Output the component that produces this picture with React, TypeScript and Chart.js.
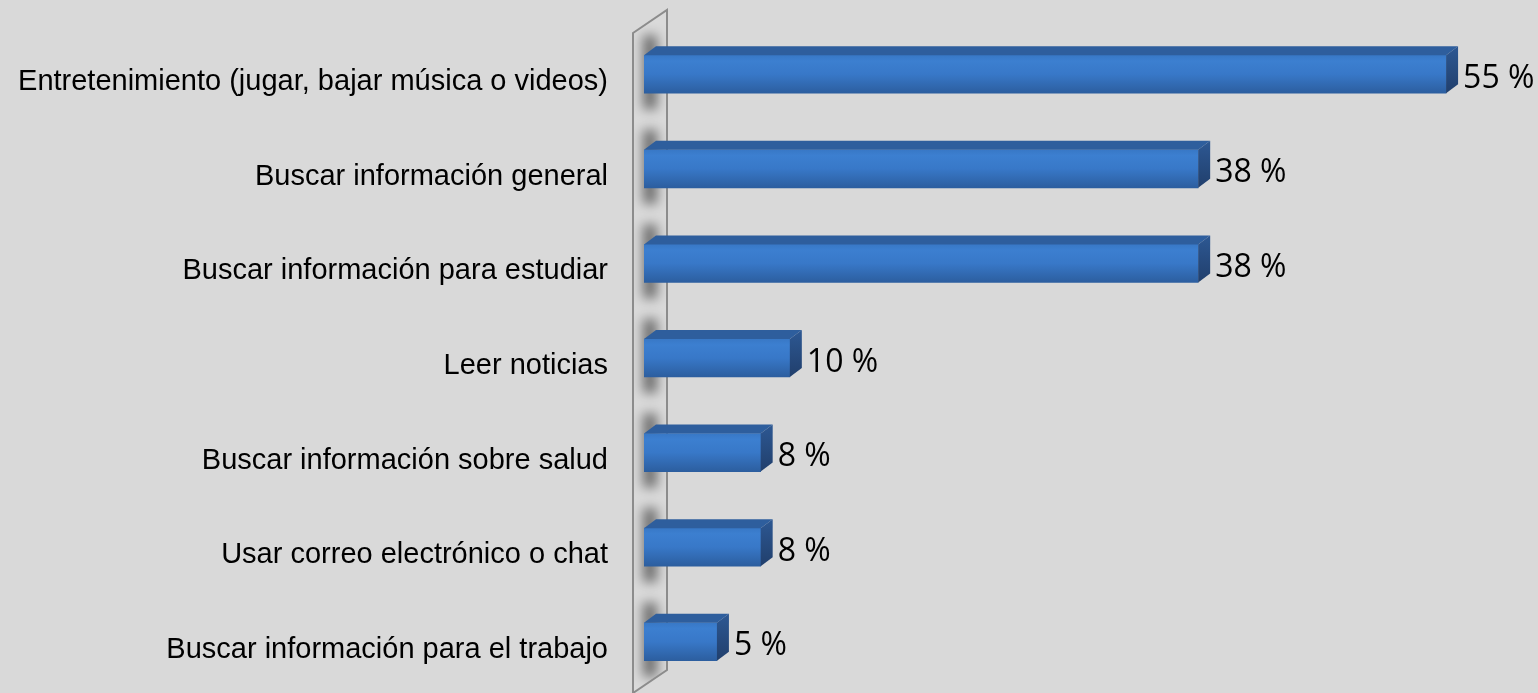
import { useEffect, useRef } from 'react';
import { Chart, registerables } from 'chart.js';

Chart.register(...registerables);

const categories = [
  'Entretenimiento (jugar, bajar música o videos)',
  'Buscar información general',
  'Buscar información para estudiar',
  'Leer noticias',
  'Buscar información sobre salud',
  'Usar correo electrónico o chat',
  'Buscar información para el trabajo',
];
const values = [55, 38, 38, 10, 8, 8, 5];
const valueLabels = ['55 %', '38 %', '38 %', '10 %', '8 %', '8 %', '5 %'];

const DX = 12;
const DY = 9;

const bar3d = {
  id: 'bar3d',
  beforeDatasetsDraw(chart: any) {
    const { ctx, chartArea } = chart;
    const L = chartArea.left;
    const wall = [
      [L - 11, 33],
      [L + 23, 10],
      [L + 23, 670],
      [L - 11, 693],
    ];
    const path = () => {
      ctx.beginPath();
      ctx.moveTo(wall[0][0], wall[0][1]);
      for (let i = 1; i < wall.length; i++) ctx.lineTo(wall[i][0], wall[i][1]);
      ctx.closePath();
    };
    ctx.save();
    path();
    ctx.fillStyle = '#dadada';
    ctx.fill();
    ctx.clip();
    ctx.filter = 'blur(6px)';
    ctx.fillStyle = 'rgba(0,0,0,0.5)';
    const meta = chart.getDatasetMeta(0);
    meta.data.forEach((bar: any) => {
      const { y, height } = bar.getProps(['y', 'height'], true);
      ctx.fillRect(L - 1, y - height / 2 - 20, 14, height + 36);
    });
    ctx.restore();
    ctx.save();
    path();
    ctx.strokeStyle = '#8c8c8c';
    ctx.lineWidth = 2;
    ctx.stroke();
    ctx.restore();
  },
  afterDatasetsDraw(chart: any) {
    const { ctx } = chart;
    const meta = chart.getDatasetMeta(0);
    ctx.save();
    meta.data.forEach((bar: any, i: number) => {
      const { x, y, base, height } = bar.getProps(['x', 'y', 'base', 'height'], true);
      const top = y - height / 2;
      const bottom = y + height / 2;
      // top face
      ctx.beginPath();
      ctx.moveTo(base, top);
      ctx.lineTo(base + DX, top - DY);
      ctx.lineTo(x + DX, top - DY);
      ctx.lineTo(x, top);
      ctx.closePath();
      ctx.fillStyle = '#2e5e9d';
      ctx.fill();
      // side face
      const sg = ctx.createLinearGradient(0, top - DY, 0, bottom);
      sg.addColorStop(0, '#2d5893');
      sg.addColorStop(1, '#213f6c');
      ctx.beginPath();
      ctx.moveTo(x, top);
      ctx.lineTo(x + DX, top - DY);
      ctx.lineTo(x + DX, bottom - DY);
      ctx.lineTo(x, bottom);
      ctx.closePath();
      ctx.fillStyle = sg;
      ctx.fill();
      // value label
      ctx.fillStyle = '#000';
      ctx.font = '32px "Open Sans"';
      ctx.textAlign = 'left';
      ctx.textBaseline = 'alphabetic';
      ctx.fillText(valueLabels[i], x + DX + 5, y + 13.5);
    });
    ctx.restore();
  },
};

export default function App() {
  const ref = useRef<HTMLCanvasElement>(null);
  useEffect(() => {
    document.body.style.margin = '0';
    document.body.style.background = '#d9d9d9';
    const canvas = ref.current!;
    const chart = new Chart(canvas, {
      type: 'bar',
      data: {
        labels: categories,
        datasets: [
          {
            data: values,
            barThickness: 38,
            borderWidth: 0,
            backgroundColor: (c: any) => {
              const ch = c.chart;
              const ys = ch.scales?.y;
              const cy = ys ? ys.getPixelForValue(c.dataIndex) : NaN;
              if (!Number.isFinite(cy)) return '#3878c8';
              const g = ch.ctx.createLinearGradient(0, cy - 19, 0, cy + 19);
              g.addColorStop(0, '#3878c6');
              g.addColorStop(0.15, '#3c7fd0');
              g.addColorStop(0.5, '#3878c8');
              g.addColorStop(1, '#2c5e9f');
              return g;
            },
          },
        ],
      },
      options: {
        indexAxis: 'y',
        responsive: false,
        animation: false,
        layout: { padding: { left: 0, right: 19, top: 27, bottom: 4 } },
        plugins: { legend: { display: false }, title: { display: false }, tooltip: { enabled: false } },
        scales: {
          x: { display: false, min: 0, max: 60 },
          y: {
            grid: { display: false, drawTicks: false },
            border: { display: false },
            afterFit: (s: any) => {
              s.width = 644;
              s.paddingTop = 0;
              s.paddingBottom = 0;
            },
            ticks: {
              padding: 36,
              labelOffset: 8,
              color: '#000',
              font: { family: '"Liberation Sans", Arial, sans-serif', size: 29 },
            },
          },
        },
      },
      plugins: [bar3d],
    });
    return () => chart.destroy();
  }, []);
  return (
    <div style={{ width: 1538, height: 693, background: '#d9d9d9' }}>
      <canvas ref={ref} width={1538} height={693} style={{ display: 'block' }} />
    </div>
  );
}
